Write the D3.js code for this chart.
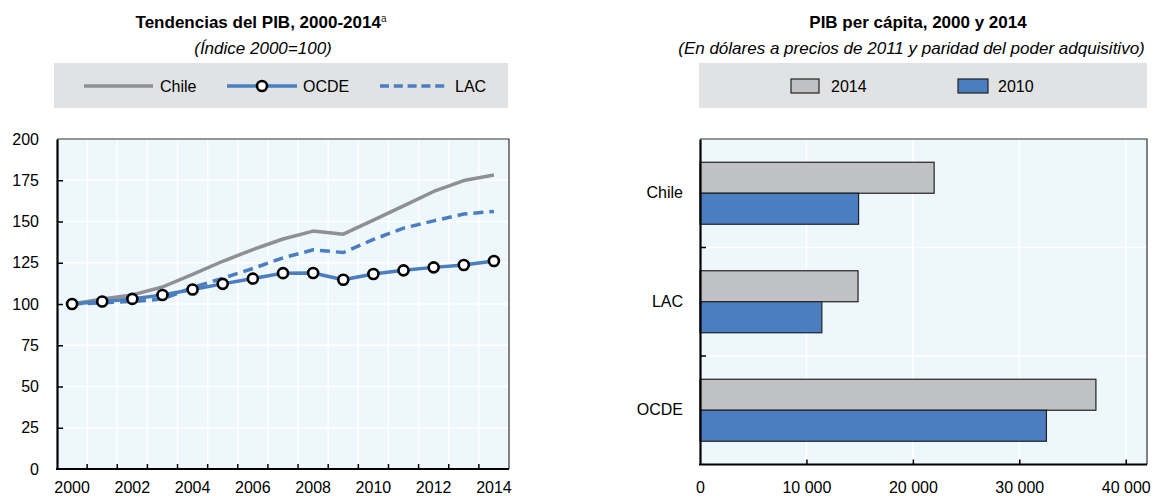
<!DOCTYPE html>
<html><head><meta charset="utf-8">
<script src="https://cdn.jsdelivr.net/npm/d3@7"></script>
<style>body{margin:0;background:#fff}svg{display:block;font-family:"Liberation Sans",Arial,sans-serif}</style>
</head><body><svg id="c" width="1163" height="496"></svg>
<script>
// ---------- data ----------
const years = [2000,2001,2002,2003,2004,2005,2006,2007,2008,2009,2010,2011,2012,2013,2014];
const chile = [100,103,105.5,110.3,118,125.9,133,139.4,144.2,142.3,150.8,159.5,168.2,174.8,178.2];
const ocde  = [100,101.5,103.1,105.5,108.8,112.2,115.4,118.7,118.8,114.7,118.2,120.4,122.2,123.6,126.1];
const lac   = [100,100.7,101.5,103,110,115.6,121.5,128,132.8,131.2,139.1,146,150.4,154.5,156.1];
const yTicks = [0,25,50,75,100,125,150,175,200];
const xLabelYears = [2000,2002,2004,2006,2008,2010,2012,2014];

const categories = ["Chile","LAC","OCDE"];
const barSeries = ["2014","2010"];
const pib2014 = [22000,14850,37200];
const pib2010 = [14900,11450,32550];
const xTicks = [0,10000,20000,30000,40000];

// ---------- style ----------
const BG = "#EEF7FB", LEG = "#E1E2E3", BLUE = "#4A7EC0", GREY = "#8F9093", BARGREY = "#C0C1C3";
const svg = d3.select("#c");

// ================= LEFT CHART =================
const L = {x0:57, x1:509, y0:139, y1:469};
const x = d3.scaleBand().domain(years).range([L.x0, L.x1]);
const y = d3.scaleLinear().domain([0,200]).range([L.y1, L.y0]);
const gL = svg.append("g");

gL.append("rect").attr("x",L.x0).attr("y",L.y0).attr("width",L.x1-L.x0).attr("height",L.y1-L.y0).attr("fill",BG);
// grid
gL.selectAll(".hg").data(yTicks.slice(1,-1)).join("line")
  .attr("x1",L.x0).attr("x2",L.x1).attr("y1",d=>y(d)).attr("y2",d=>y(d))
  .attr("stroke","#fff").attr("stroke-width",1.5);
gL.selectAll(".vg").data(years.slice(1)).join("line")
  .attr("x1",d=>x(d)).attr("x2",d=>x(d)).attr("y1",L.y0).attr("y2",L.y1)
  .attr("stroke","#fff").attr("stroke-width",1.5);
// frame top/right
gL.append("path").attr("d",`M${L.x0},${L.y0}H${L.x1}V${L.y1}`).attr("fill","none").attr("stroke","#333").attr("stroke-width",1.2);

// y axis
const ay = gL.append("g").attr("transform",`translate(${L.x0},0)`)
  .call(d3.axisLeft(y).tickValues(yTicks).tickSize(-6).tickSizeOuter(0).tickPadding(18));
ay.select(".domain").attr("stroke","#000").attr("stroke-width",2.2);
ay.selectAll(".tick line").attr("stroke","#000").attr("stroke-width",1.5);
ay.selectAll(".tick text").attr("font-size",16).attr("fill","#000").attr("font-family","Liberation Sans, Arial");
ay.selectAll(".tick").filter(d=>d===0||d===200).select("line").remove();

// x axis
const ax = gL.append("g").attr("transform",`translate(0,${L.y1})`)
  .call(d3.axisBottom(x).tickValues(xLabelYears).tickSize(0).tickPadding(12.5));
ax.select(".domain").remove();
ax.selectAll(".tick text").attr("font-size",16).attr("fill","#000").attr("font-family","Liberation Sans, Arial");
gL.append("line").attr("x1",L.x0-1).attr("x2",L.x1).attr("y1",L.y1).attr("y2",L.y1).attr("stroke","#000").attr("stroke-width",2.2);
gL.selectAll(".xt").data(years.slice(1)).join("line")
  .attr("x1",d=>x(d)).attr("x2",d=>x(d)).attr("y1",L.y1).attr("y2",L.y1-5)
  .attr("stroke","#000").attr("stroke-width",1.5);

const cx = d => x(d) + x.bandwidth()/2;
const line = d3.line().x((d,i)=>cx(years[i])).y(d=>y(d));
gL.append("path").datum(chile).attr("d",line).attr("fill","none").attr("stroke",GREY).attr("stroke-width",3.5).attr("stroke-linejoin","round");
gL.append("path").datum(ocde).attr("d",line).attr("fill","none").attr("stroke",BLUE).attr("stroke-width",3.5).attr("stroke-linejoin","round");
gL.append("path").datum(lac).attr("d",line).attr("fill","none").attr("stroke",BLUE).attr("stroke-width",3.5).attr("stroke-dasharray","10,6");
gL.selectAll(".m").data(ocde).join("circle")
  .attr("cx",(d,i)=>cx(years[i])).attr("cy",d=>y(d)).attr("r",5)
  .attr("fill","#fff").attr("stroke","#000").attr("stroke-width",2.6);

// titles
const t1 = svg.append("text").attr("x",261).attr("y",27.5).attr("text-anchor","middle")
  .attr("font-size",17).attr("font-weight","bold").attr("fill","#000");
t1.append("tspan").text("Tendencias del PIB, 2000-2014");
t1.append("tspan").text("a").attr("font-size",10).attr("font-weight","normal").attr("dy",-6).attr("fill","#222");
svg.append("text").attr("x",263).attr("y",53.5).attr("text-anchor","middle").attr("font-size",17)
  .attr("font-style","italic").attr("fill","#000").text("(Índice 2000=100)");

// legend left
svg.append("rect").attr("x",54).attr("y",63).attr("width",454).attr("height",45).attr("fill",LEG);
const ly = 86;
svg.append("line").attr("x1",84).attr("x2",153).attr("y1",ly).attr("y2",ly).attr("stroke",GREY).attr("stroke-width",3.5);
svg.append("text").attr("x",160).attr("y",ly+5.7).attr("font-size",16).text("Chile");
svg.append("line").attr("x1",227).attr("x2",297).attr("y1",ly).attr("y2",ly).attr("stroke",BLUE).attr("stroke-width",3.5);
svg.append("circle").attr("cx",262).attr("cy",ly).attr("r",5).attr("fill","#fff").attr("stroke","#000").attr("stroke-width",2.6);
svg.append("text").attr("x",303).attr("y",ly+5.7).attr("font-size",16).text("OCDE");
svg.append("line").attr("x1",380).attr("x2",448).attr("y1",ly).attr("y2",ly).attr("stroke",BLUE).attr("stroke-width",3.5).attr("stroke-dasharray","9,4.8");
svg.append("text").attr("x",455).attr("y",ly+5.7).attr("font-size",16).text("LAC");

// ================= RIGHT CHART =================
const R = {x0:700, x1:1147, y0:139, y1:464.5};
const xr = d3.scaleLinear().domain([0,42000]).range([R.x0,R.x1]);
const yc = d3.scaleBand().domain(categories).range([R.y0,R.y1]).padding(0);
const ys = d3.scaleBand().domain(barSeries).range([0,yc.bandwidth()]).paddingInner(0).paddingOuter(0.75);
const gR = svg.append("g");
gR.append("rect").attr("x",R.x0).attr("y",R.y0).attr("width",R.x1-R.x0).attr("height",R.y1-R.y0).attr("fill",BG);
gR.selectAll(".vg").data(xTicks.slice(1)).join("line")
  .attr("x1",d=>xr(d)).attr("x2",d=>xr(d)).attr("y1",R.y0).attr("y2",R.y1).attr("stroke","#fff").attr("stroke-width",1.5);
gR.selectAll(".hg").data(categories.slice(1)).join("line")
  .attr("x1",R.x0).attr("x2",R.x1).attr("y1",d=>yc(d)).attr("y2",d=>yc(d)).attr("stroke","#fff").attr("stroke-width",1.5);
gR.append("path").attr("d",`M${R.x0},${R.y0}H${R.x1}V${R.y1}`).attr("fill","none").attr("stroke","#333").attr("stroke-width",1.2);

const barData = [];
categories.forEach((c,i)=>{
  barData.push({cat:c, s:"2014", v:pib2014[i]});
  barData.push({cat:c, s:"2010", v:pib2010[i]});
});
gR.selectAll(".bar").data(barData).join("rect")
  .attr("x",xr(0)).attr("y",d=>yc(d.cat)+ys(d.s)).attr("width",d=>xr(d.v)-xr(0)).attr("height",ys.bandwidth())
  .attr("fill",d=>d.s==="2014"?BARGREY:BLUE).attr("stroke","#222").attr("stroke-width",1.2);

const loc = d3.formatLocale({decimal:",",thousands:" ",grouping:[3],currency:["",""]});
const axr = gR.append("g").attr("transform",`translate(0,${R.y1})`)
  .call(d3.axisBottom(xr).tickValues(xTicks).tickFormat(loc.format(",")).tickSize(-5).tickSizeOuter(0).tickPadding(17.5));
axr.select(".domain").remove();
axr.selectAll(".tick line").attr("stroke","#000").attr("stroke-width",1.5);
axr.selectAll(".tick").filter(d=>d===0).select("line").remove();
axr.selectAll(".tick text").attr("font-size",16).attr("fill","#000").attr("font-family","Liberation Sans, Arial");
gR.append("line").attr("x1",R.x0-1).attr("x2",R.x1).attr("y1",R.y1).attr("y2",R.y1).attr("stroke","#000").attr("stroke-width",2.2);

const ayr = gR.append("g").attr("transform",`translate(${R.x0},0)`)
  .call(d3.axisLeft(yc).tickSize(0).tickPadding(17));
ayr.select(".domain").attr("stroke","#000").attr("stroke-width",2.2);
ayr.selectAll(".tick text").attr("font-size",16).attr("fill","#000").attr("font-family","Liberation Sans, Arial");
gR.selectAll(".ct").data(categories.slice(1)).join("line")
  .attr("x1",R.x0).attr("x2",R.x0+6).attr("y1",d=>yc(d)).attr("y2",d=>yc(d)).attr("stroke","#000").attr("stroke-width",1.5);

svg.append("text").attr("x",918).attr("y",27.5).attr("text-anchor","middle").attr("font-size",17)
  .attr("font-weight","bold").text("PIB per cápita, 2000 y 2014");
svg.append("text").attr("x",911.5).attr("y",53.5).attr("text-anchor","middle").attr("font-size",17)
  .attr("font-style","italic").text("(En dólares a precios de 2011 y paridad del poder adquisitivo)");

// legend right
svg.append("rect").attr("x",699).attr("y",63).attr("width",448).attr("height",45).attr("fill",LEG);
svg.append("rect").attr("x",791).attr("y",79).attr("width",28).attr("height",14).attr("fill",BARGREY).attr("stroke","#222").attr("stroke-width",1.2);
svg.append("text").attr("x",831).attr("y",ly+5.7).attr("font-size",16).text(barSeries[0]);
svg.append("rect").attr("x",958).attr("y",79).attr("width",30).attr("height",14).attr("fill",BLUE).attr("stroke","#222").attr("stroke-width",1.2);
svg.append("text").attr("x",998).attr("y",ly+5.7).attr("font-size",16).text(barSeries[1]);
</script></body></html>
